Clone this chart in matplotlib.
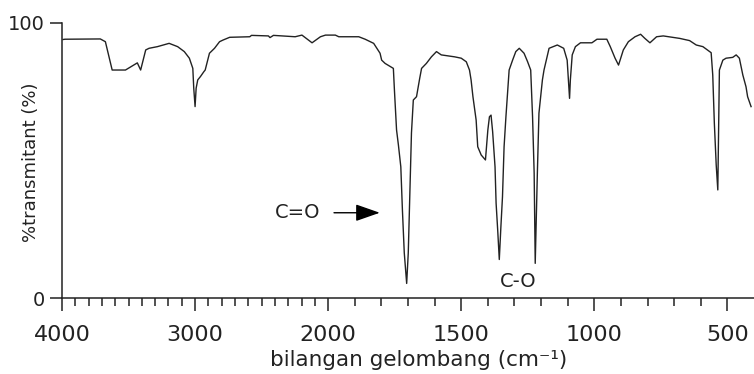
import numpy as np
import matplotlib
matplotlib.use('Agg')
import matplotlib.pyplot as plt

# bilangan gelombang (cm-1) dan %transmitan
wavenumber = [3992, 3977, 3712, 3674, 3623, 3523, 3434, 3409, 3371, 3346,
              3283, 3195, 3131, 3081, 3043, 3017, 3010, 3000, 2992, 2980,
              2960, 2934, 2924, 2892, 2854, 2816, 2790, 2740, 2589, 2576,
              2449, 2437, 2411, 2248, 2197, 2121, 2058, 2020, 1973, 1960,
              1885, 1861, 1829, 1805, 1799, 1786, 1755, 1751, 1743, 1736,
              1727, 1721, 1714, 1705, 1699, 1693, 1687, 1680, 1668, 1656,
              1649, 1631, 1612, 1593, 1575, 1525, 1500, 1481, 1469, 1463,
              1456, 1444, 1438, 1425, 1409, 1400, 1394, 1388, 1382, 1373,
              1369, 1363, 1357, 1351, 1345, 1339, 1332, 1320, 1307, 1295,
              1282, 1264, 1251, 1239, 1232, 1226, 1222, 1214, 1208, 1195,
              1189, 1170, 1139, 1115, 1102, 1096, 1093, 1090, 1083, 1071,
              1052, 1009, 990, 953, 940, 922, 909, 891, 872, 847,
              826, 810, 791, 766, 741, 679, 642, 617, 592, 561,
              555, 549, 542, 536, 533, 530, 517, 505, 480, 467,
              455, 442, 430, 424, 411]
transmitan = [94.0, 94.1, 94.2, 93.2, 82.9, 82.9, 85.5, 82.9, 90.2, 90.8,
              91.4, 92.6, 91.4, 89.6, 87.2, 83.5, 76.3, 69.6, 76.3, 79.3,
              80.5, 82.3, 82.9, 89.0, 90.8, 93.2, 93.8, 94.8, 95.0, 95.5,
              95.3, 94.7, 95.5, 95.0, 95.6, 92.8, 95.0, 95.6, 95.6, 95.0,
              95.0, 94.1, 92.6, 89.0, 86.5, 85.3, 83.5, 75.6, 61.1, 55.6,
              47.7, 32.0, 16.4, 5.3, 16.4, 38.7, 60.0, 72.0, 73.2, 79.9,
              83.5, 85.3, 87.7, 89.6, 88.4, 87.7, 87.2, 85.9, 82.9, 79.3,
              73.2, 64.7, 55.0, 52.0, 50.2, 61.1, 65.9, 66.5, 60.5, 47.7,
              34.5, 24.7, 14.0, 25.9, 36.8, 55.0, 66.0, 82.9, 86.5, 89.6,
              90.8, 89.0, 86.0, 82.9, 65.9, 45.4, 12.6, 45.3, 67.2, 79.3,
              82.9, 90.8, 92.0, 90.8, 86.5, 76.8, 72.6, 79.3, 88.4, 91.4,
              92.8, 92.8, 94.1, 94.1, 91.4, 87.2, 84.7, 90.2, 93.2, 95.0,
              95.9, 94.4, 92.8, 95.0, 95.3, 94.4, 93.6, 92.0, 91.4, 89.2,
              81.1, 63.6, 48.4, 39.3, 61.0, 82.9, 86.5, 87.2, 87.5, 88.4,
              87.2, 81.1, 76.8, 73.2, 69.6]

major_ticks = [4000, 3000, 2000, 1500, 1000, 500]
major_labels = ['4000', '3000', '2000', '1500', '1000', '500']


# skala IR: di bawah 2000 cm-1 skalanya dua kali lebih lebar
def forward(x):
    x = np.asarray(x, dtype=float)
    return np.where(x >= 2000, x, 2 * x - 2000)


def inverse(y):
    y = np.asarray(y, dtype=float)
    return np.where(y >= 2000, y, (y + 2000) / 2)


fig = plt.figure(figsize=(7.54, 3.74), dpi=100)
ax = fig.add_axes([62 / 754, 76 / 374, 692 / 754, 275 / 374])
ax.set_xscale('function', functions=(forward, inverse))

ax.plot(wavenumber, transmitan, color='#222222', lw=1.0)

ax.set_xlim(4000, 400)
ax.set_ylim(0, 100)

for s in ['top', 'right']:
    ax.spines[s].set_visible(False)
for s in ['left', 'bottom']:
    ax.spines[s].set_linewidth(1.1)
    ax.spines[s].set_color('#222222')

ax.set_xticks(major_ticks)
ax.set_xticklabels(major_labels, fontsize=16)
minor = [w for w in range(3900, 499, -100) if w not in major_ticks]
ax.set_xticks(minor, minor=True)
ax.set_yticks([0, 100])
ax.set_yticklabels(['0', '100'], fontsize=14)

ax.tick_params(axis='x', which='major', direction='out', length=9.5, width=1.1,
               pad=10, colors='#222222')
ax.tick_params(axis='x', which='minor', direction='out', length=5.8, width=1.1,
               colors='#222222')
ax.tick_params(axis='y', direction='out', length=8.6, width=1.1, pad=4,
               colors='#222222')

ax.set_xlabel('bilangan gelombang (cm⁻¹)', fontsize=15.5, color='#222222')
ax.xaxis.set_label_coords(0.516, -0.19)
fig.text(31 / 754, 1 - 162 / 374, '%transmitant (%)', rotation=90,
         ha='center', va='center', fontsize=13, color='#222222')

# label pita
ax.text(2227, 31, 'C=O', ha='center', va='center', fontsize=14, color='#222222')
ax.annotate('', xy=(1806, 31), xytext=(1978, 31),
            arrowprops=dict(arrowstyle='-|>,head_length=1.0,head_width=0.35',
                            mutation_scale=15, color='black', lw=1.0,
                            shrinkA=0, shrinkB=0))
ax.text(1287, 6, 'C-O', ha='center', va='center', fontsize=14, color='#222222')

fig.savefig('out.png', dpi=100)
